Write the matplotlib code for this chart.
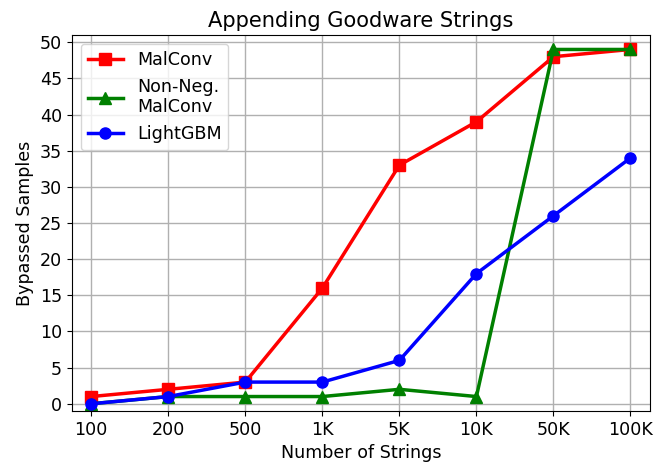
import matplotlib
matplotlib.use("Agg")
from matplotlib import pyplot as plt

# Goodware strings appended vs. samples that got through
num_strings = ["100", "200", "500", "1K", "5K", "10K", "50K", "100K"]
malconv = [1, 2, 3, 16, 33, 39, 48, 49]
nonneg_malconv = [0, 1, 1, 1, 2, 1, 49, 49]
lightgbm = [0, 1, 3, 3, 6, 18, 26, 34]

plt.rcParams["font.size"] = 12.6

fig, ax = plt.subplots(figsize=(6.63, 4.63), dpi=100)
x = range(len(num_strings))
ax.plot(x, malconv, color="red", marker="s", markersize=8, linewidth=2.5, label="MalConv")
ax.plot(x, nonneg_malconv, color="green", marker="^", markersize=8, linewidth=2.5, label="Non-Neg.\nMalConv")
ax.plot(x, lightgbm, color="blue", marker="o", markersize=8, linewidth=2.5, label="LightGBM")

ax.set_xticks(list(x))
ax.set_xticklabels(num_strings)
ax.set_yticks(range(0, 51, 5))
ax.set_ylim(-1, 51)
ax.set_xlim(-0.25, 7.25)
ax.grid(True, color="#b0b0b0", linewidth=1)
ax.set_xlabel("Number of Strings")
ax.set_ylabel("Bypassed Samples")
ax.set_title("Appending Goodware Strings")
ax.legend(loc="upper left")

fig.subplots_adjust(left=0.1086, right=0.98, top=0.9244, bottom=0.1123)
fig.savefig("out.png", dpi=100)
